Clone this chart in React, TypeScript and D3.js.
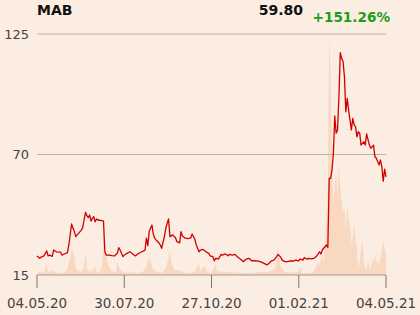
import React from "react";
import * as d3 from "d3";

const ticker = "MAB";
const lastPrice = "59.80";
const changePct = "+151.26%";

const yTicks = [15, 70, 125];
const xTickDays = [0, 63, 126, 189, 252];
const xTickLabels = ["04.05.20", "30.07.20", "27.10.20", "01.02.21", "04.05.21"];

const priceDay = [0, 2, 3, 5, 7, 8, 9, 11, 12, 14, 17, 18, 20, 22, 23, 25, 26, 27, 28, 30, 32, 33, 34, 35, 36, 37, 38, 39, 40, 41, 42, 43, 44, 47, 48, 49, 50, 52, 54, 56, 58, 59, 60, 62, 63, 65, 67, 69, 71, 73, 75, 77, 78, 79, 80, 81, 83, 84, 85, 86, 88, 89, 90, 92, 93, 94, 95, 96, 98, 100, 101, 103, 104, 105, 107, 109, 111, 112, 114, 115, 117, 118, 120, 122, 124, 125, 127, 128, 129, 131, 133, 134, 136, 138, 139, 141, 143, 145, 147, 149, 151, 153, 155, 157, 160, 162, 164, 166, 168, 169, 171, 173, 174, 176, 177, 179, 181, 183, 185, 187, 189, 190, 192, 193, 195, 196, 198, 200, 202, 204, 205, 206, 207, 209, 210, 211, 212, 213, 214, 215, 216, 217, 218, 219, 220, 221, 222, 223, 224, 225, 226, 227, 228, 229, 230, 231, 232, 233, 234, 236, 237, 238, 240, 241, 243, 244, 245, 247, 248, 249, 250, 251, 252];
const priceValue = [23.7, 22.6, 23.2, 23.7, 26.0, 23.7, 24.1, 23.5, 26.4, 25.6, 25.4, 24.1, 24.7, 25.2, 28.7, 38.3, 36.3, 34.8, 32.5, 34.0, 35.5, 36.6, 40.1, 43.6, 42.1, 41.2, 42.4, 39.6, 40.9, 41.6, 39.3, 40.6, 40.1, 39.8, 39.6, 25.6, 24.1, 24.1, 23.8, 23.7, 24.9, 27.5, 26.4, 23.4, 24.1, 24.9, 25.6, 24.7, 23.7, 24.7, 25.4, 26.0, 26.4, 31.8, 28.4, 34.8, 37.8, 33.6, 31.8, 31.0, 29.7, 28.7, 27.2, 32.5, 36.3, 38.6, 40.6, 32.5, 33.3, 32.0, 30.2, 29.7, 34.8, 32.8, 31.8, 31.6, 31.9, 33.7, 31.3, 28.7, 25.6, 26.4, 26.7, 25.6, 24.9, 23.7, 23.4, 21.5, 22.6, 22.3, 24.4, 24.1, 24.6, 23.8, 24.4, 24.1, 24.4, 23.1, 22.2, 21.1, 22.2, 22.6, 21.5, 21.5, 21.3, 20.9, 20.3, 19.6, 20.6, 21.3, 21.8, 23.4, 24.4, 23.1, 21.8, 21.1, 21.1, 21.5, 21.3, 21.8, 21.5, 22.3, 21.8, 22.9, 22.2, 22.6, 22.4, 22.6, 23.7, 25.6, 24.6, 26.4, 27.2, 28.7, 27.6, 59.1, 59.1, 62.9, 70.5, 87.6, 79.7, 81.2, 96.4, 116.5, 113.9, 112.4, 105.5, 89.5, 95.6, 90.3, 85.7, 81.2, 86.5, 83.5, 82.7, 78.1, 80.4, 79.7, 74.3, 75.8, 74.3, 79.4, 74.3, 72.8, 74.3, 69.0, 68.3, 65.2, 67.5, 64.4, 57.8, 63.3, 59.8];

const volumeDay = [0, 2, 5, 7, 8, 11, 12, 14, 17, 20, 22, 24, 25, 27, 28, 30, 32, 34, 35, 36, 38, 40, 42, 43, 45, 47, 48, 49, 51, 52, 54, 57, 58, 60, 61, 64, 69, 73, 76, 79, 80, 81, 83, 84, 87, 90, 93, 95, 96, 97, 99, 103, 106, 110, 114, 116, 117, 118, 121, 123, 126, 129, 130, 134, 139, 147, 154, 161, 167, 169, 172, 174, 176, 179, 183, 188, 190, 191, 196, 199, 202, 203, 204, 206, 207, 208, 209, 210, 211, 212, 213, 214, 215, 216, 217, 218, 219, 220, 221, 222, 223, 224, 225, 226, 227, 228, 229, 230, 231, 232, 233, 234, 235, 236, 237, 238, 239, 240, 241, 242, 243, 244, 245, 247, 249, 250, 251, 252];
const volumeValue = [2, 3, 2, 11, 3, 4, 5, 2, 2, 3, 6, 18, 27, 18, 6, 4, 3, 8, 23, 6, 3, 4, 9, 3, 2, 8, 38, 26, 12, 8, 4, 3, 13, 5, 4, 2, 3, 2, 3, 8, 14, 18, 10, 5, 3, 2, 6, 18, 24, 14, 5, 5, 2, 2, 3, 9, 11, 4, 9, 3, 2, 11, 4, 3, 3, 2, 2, 3, 3, 4, 7, 27, 8, 3, 2, 3, 8, 2, 2, 2, 9, 14, 10, 20, 13, 30, 57, 90, 239, 200, 104, 71, 91, 101, 80, 111, 87, 74, 64, 64, 44, 71, 54, 51, 31, 37, 52, 35, 27, 7, 13, 25, 37, 13, 6, 7, 14, 8, 6, 17, 12, 20, 14, 10, 24, 35, 27, 20];

const W = 420;
const H = 315;
const left = 37;
const right = 386;
const top = 34;
const bottom = 275;
const FONT = "'DejaVu Sans', sans-serif";

export default function App() {
  const x = d3.scaleLinear().domain([0, 252]).range([left, right]);
  const y = d3.scaleLinear().domain([15, 125]).range([bottom, top]);
  const yv = d3.scaleLinear().domain([0, 240]).range([bottom, top]);

  const priceData = priceDay.map((d, i) => [d, priceValue[i]] as [number, number]);
  const volData = volumeDay.map((d, i) => [d, volumeValue[i]] as [number, number]);

  const line = d3
    .line<[number, number]>()
    .x((d) => x(d[0]))
    .y((d) => y(d[1]));
  const area = d3
    .area<[number, number]>()
    .x((d) => x(d[0]))
    .y0(bottom)
    .y1((d) => yv(d[1]));

  return (
    <svg
      width={W}
      height={H}
      style={{ position: "absolute", left: 0, top: 0, background: "#fbede1" }}
    >
      <rect x={0} y={0} width={W} height={H} fill="#fbede1" />
      <path d={area(volData) || ""} fill="#f8d8c1" />
      {yTicks
        .filter((t) => t !== 15)
        .map((t) => (
          <line key={t} x1={left} x2={right} y1={y(t)} y2={y(t)} stroke="#b9b2ab" strokeWidth={1} />
        ))}
      <line x1={left} x2={right} y1={bottom} y2={bottom} stroke="#a39d97" strokeWidth={1} />
      {xTickDays.map((d) => (
        <line key={d} x1={x(d)} x2={x(d)} y1={bottom} y2={bottom + 13} stroke="#777" strokeWidth={1} />
      ))}
      <path d={line(priceData) || ""} fill="none" stroke="#d00000" strokeWidth={1.3} strokeLinejoin="round" />
      {yTicks.map((t) => (
        <text key={t} x={29} y={y(t)} dy="0.36em" textAnchor="end" fontFamily={FONT} fontSize={13} fill="#444">
          {t}
        </text>
      ))}
      {xTickDays.map((d, i) => (
        <text key={d} x={x(d)} y={308} textAnchor="middle" fontFamily={FONT} fontSize={13.5} fill="#444">
          {xTickLabels[i]}
        </text>
      ))}
      <text x={37} y={15} fontFamily={FONT} fontSize={14} fontWeight="bold" fill="#111">
        {ticker}
      </text>
      <text x={303} y={14.5} textAnchor="end" fontFamily={FONT} fontSize={14} fontWeight="bold" fill="#111">
        {lastPrice}
      </text>
      <text x={390} y={22} textAnchor="end" fontFamily={FONT} fontSize={13.6} fontWeight="bold" fill="#1a9e1a">
        {changePct}
      </text>
    </svg>
  );
}
